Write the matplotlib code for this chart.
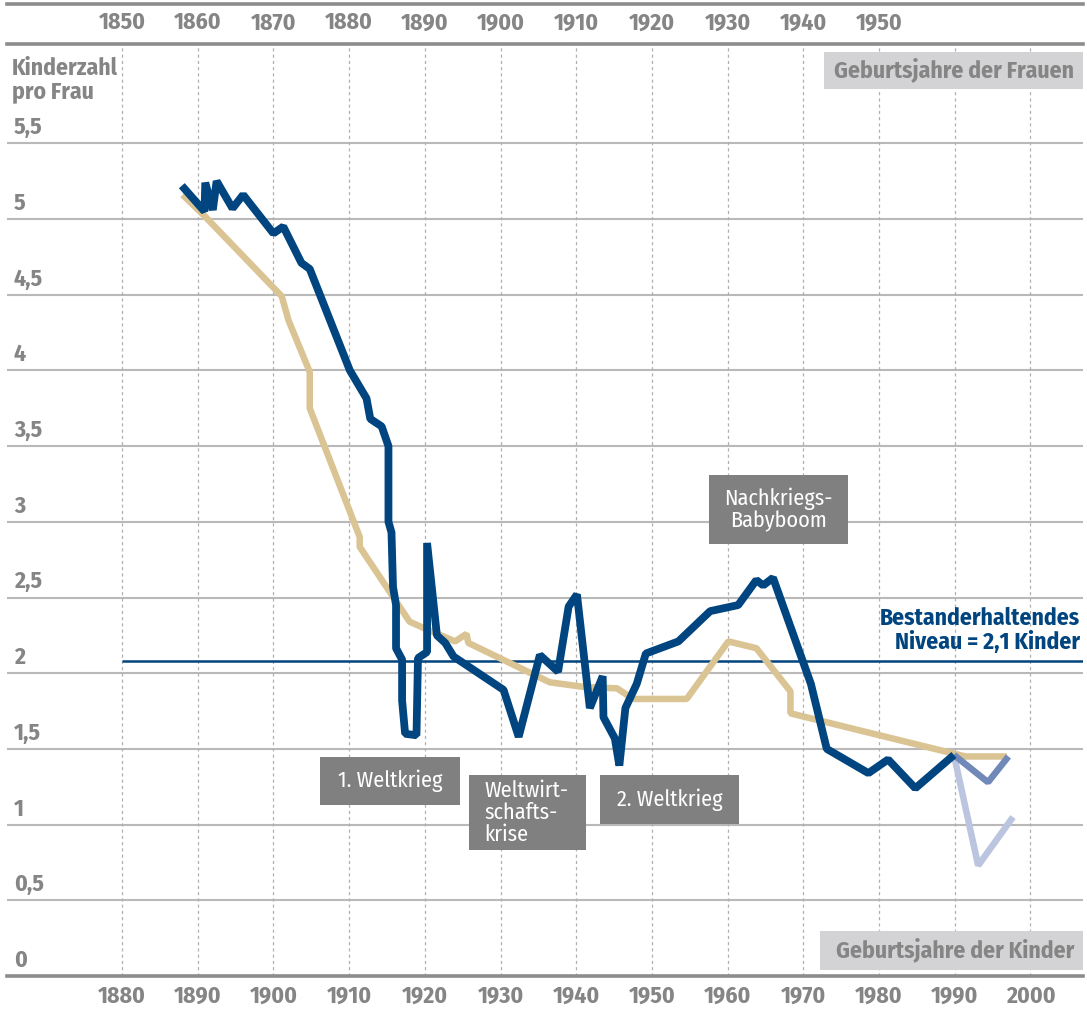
import matplotlib
matplotlib.use("Agg")
import matplotlib.pyplot as plt
from matplotlib import font_manager
from matplotlib.font_manager import FontProperties
from matplotlib.patches import Rectangle
from matplotlib.lines import Line2D
import matplotlib.transforms as mtransforms

# ---------------- data ----------------
# calendar-year fertility (by year of children's birth)
tfr_years = [1887.9, 1890.9, 1891.0, 1892.0, 1892.5, 1894.6, 1896.0, 1900.0, 1901.3,
             1903.7, 1904.8, 1910.1, 1912.3, 1912.8, 1914.3, 1915.2, 1915.2, 1915.6,
             1915.8, 1916.2, 1916.2, 1917.0, 1917.0, 1917.4, 1918.9, 1919.1, 1920.3,
             1920.3, 1921.6, 1922.7, 1923.8, 1930.4, 1932.4, 1935.2, 1937.6, 1939.0,
             1940.1, 1941.8, 1943.5, 1943.6, 1945.1, 1945.7, 1946.5, 1948.0, 1949.2,
             1953.5, 1957.7, 1961.4, 1963.8, 1964.7, 1966.0, 1971.0, 1973.1, 1978.6,
             1981.2, 1984.8, 1989.9]
tfr_values = [5.22, 5.05, 5.24, 5.06, 5.25, 5.07, 5.16, 4.905, 4.95,
              4.71, 4.67, 4.00, 3.815, 3.68, 3.63, 3.50, 3.00, 2.93,
              2.57, 2.45, 2.165, 2.09, 1.82, 1.60, 1.59, 2.10, 2.14,
              2.86, 2.25, 2.20, 2.11, 1.89, 1.58, 2.12, 2.01, 2.44,
              2.52, 1.77, 1.98, 1.71, 1.57, 1.39, 1.77, 1.93, 2.13,
              2.21, 2.41, 2.45, 2.615, 2.58, 2.63, 1.93, 1.50, 1.34,
              1.43, 1.24, 1.46]

# after reunification
west_years = [1989.9, 1994.4, 1997.1]
west_values = [1.46, 1.28, 1.45]
east_years = [1989.9, 1993.1, 1997.7]
east_values = [1.46, 0.73, 1.05]

# completed cohort fertility (women's birth year + 30, on the children's axis)
cohort_years = [1888.0, 1891.0, 1901.1, 1902.0, 1904.8, 1904.8, 1911.4, 1911.4, 1918.0,
                1919.8, 1924.0, 1925.5, 1925.75, 1936.5, 1940.9, 1945.4, 1947.5, 1954.6,
                1960.1, 1963.8, 1968.3, 1968.3, 1989.8, 1991.4, 1996.9]
cohort_values = [5.16, 5.015, 4.49, 4.33, 3.99, 3.75, 2.90, 2.835, 2.34,
                 2.30, 2.21, 2.26, 2.20, 1.94, 1.91, 1.90, 1.83, 1.83,
                 2.21, 2.165, 1.88, 1.735, 1.47, 1.45, 1.45]

replacement_level = 2.08
replacement_start = 1880

bottom_ticks = list(range(1880, 2001, 10))
top_ticks = list(range(1850, 1951, 10))
cohort_offset = 30
y_ticks = [0, 0.5, 1, 1.5, 2, 2.5, 3, 3.5, 4, 4.5, 5, 5.5]
y_tick_labels = ["0", "0,5", "1", "1,5", "2", "2,5", "3", "3,5", "4", "4,5", "5", "5,5"]

annotations = [
    ("Nachkriegs-\nBabyboom", (709, 475, 848, 544), "center"),
    ("1. Weltkrieg", (320, 757, 460, 805), "center"),
    ("Weltwirt-\nschafts-\nkrise", (469, 775, 586, 850), "left"),
    ("2. Weltkrieg", (600, 775, 739, 824), "center"),
]

# ---------------- fonts ----------------
font_files = {f.fname.split("/")[-1]: f.fname for f in font_manager.fontManager.ttflist}


def pick(candidates):
    for c in candidates:
        if c in font_files:
            return font_files[c]
    return None


bold_path = pick(["FiraSansCondensed-Bold.ttf", "FiraSansCondensed-SemiBold.ttf",
                  "DejaVuSansCondensed-Bold.ttf"])
reg_path = pick(["FiraSansCondensed-Regular.ttf", "DejaVuSansCondensed.ttf"])


def fp(size, bold=True):
    path = bold_path if bold else reg_path
    if path:
        return FontProperties(fname=path, size=size)
    return FontProperties(family="DejaVu Sans", weight="bold" if bold else "normal",
                          stretch="condensed", size=size)


DARK_BLUE = "#00457f"
MID_BLUE = "#7189b9"
LIGHT_BLUE = "#bcc5df"
BEIGE = "#dbc493"
GRAY_TXT = "#858585"
AXIS_GRAY = "#8c8c8c"
GRID_GRAY = "#b9b9b9"
BOX_DARK = "#808080"
BOX_LIGHT = "#d3d3d5"

W, H = 1087, 1010
fig = plt.figure(figsize=(W / 100, H / 100), dpi=100)


def fx(px):
    return px / W


def fy(py):
    return 1 - py / H


ax_l, ax_r, ax_t, ax_b = 7, 1083, 44, 976
ax = fig.add_axes([fx(ax_l), fy(ax_b), fx(ax_r) - fx(ax_l), fy(ax_t) - fy(ax_b)])
px_per_year = 7.57
x_left = 1880 - (122 - ax_l) / px_per_year
x_right = 1880 + (ax_r - 122) / px_per_year
px_per_unit = 151.4
ax.set_xlim(x_left, x_right)
ax.set_ylim(0, (ax_b - ax_t) / px_per_unit)

# grid
for v in y_ticks[1:]:
    ax.axhline(v, color=GRID_GRAY, lw=1.5, zorder=1)
for yr in bottom_ticks:
    ax.axvline(yr, color="#b0b0b0", lw=0.9, ls=(0, (2.5, 2.5)), zorder=1)

# spines
for s in ["left", "right"]:
    ax.spines[s].set_visible(False)
for s in ["top", "bottom"]:
    ax.spines[s].set_color(AXIS_GRAY)
    ax.spines[s].set_linewidth(2.6)
    ax.spines[s].set_zorder(5)

TICK_FP = fp(17)
ax.set_yticks(y_ticks)
ax.set_yticklabels([])
ax.tick_params(axis="y", length=0)
ax.set_xticks(bottom_ticks)
ax.set_xticklabels([str(t) for t in bottom_ticks], fontproperties=TICK_FP, color=GRAY_TXT)
ax.tick_params(axis="x", length=0, pad=6)

sec = ax.secondary_xaxis("top", functions=(lambda x: x - cohort_offset,
                                           lambda x: x + cohort_offset))
sec.set_xticks(top_ticks)
sec.set_xticklabels([str(t) for t in top_ticks], fontproperties=TICK_FP, color=GRAY_TXT)
sec.tick_params(axis="x", length=0, pad=7)
sec.spines["top"].set_visible(False)

# y labels inside the plot, above their gridlines
blend = mtransforms.blended_transform_factory(ax.transAxes, ax.transData)
xa = (14 - ax_l) / (ax_r - ax_l)
for v, lab in zip(y_ticks, y_tick_labels):
    ax.annotate(lab, xy=(xa, v), xycoords=blend,
                xytext=(0, 3), textcoords="offset points", ha="left", va="bottom",
                fontproperties=fp(17), color=GRAY_TXT, zorder=6)

# replacement level line
ax.hlines(replacement_level, replacement_start, x_right, color=DARK_BLUE, lw=1.8, zorder=3)

# series
kw = dict(solid_joinstyle="bevel", solid_capstyle="butt")
ax.plot(cohort_years, cohort_values, color=BEIGE, lw=4.7, zorder=3, **kw)
ax.plot(east_years, east_values, color=LIGHT_BLUE, lw=4.7, zorder=4, **kw)
ax.plot(west_years, west_values, color=MID_BLUE, lw=4.7, zorder=4.5, **kw)
ax.plot(tfr_years, tfr_values, color=DARK_BLUE, lw=5.6, zorder=4.6, **kw)

# top band line
fig.add_artist(Line2D([fx(ax_l), fx(ax_r)], [fy(4), fy(4)], color=AXIS_GRAY, lw=2.6,
                      transform=fig.transFigure))

# labels
fig.text(fx(12), fy(80), "Kinderzahl\npro Frau", ha="left", va="center",
         fontproperties=fp(17), color=GRAY_TXT, linespacing=1.05)
fig.text(fx(1080), fy(630), "Bestanderhaltendes\nNiveau = 2,1 Kinder", ha="right",
         va="center", fontproperties=fp(17), color=DARK_BLUE, linespacing=1.05)


def box(x0, y0, x1, y1, color, z=7):
    fig.add_artist(Rectangle((fx(x0), fy(y1)), fx(x1) - fx(x0), fy(y0) - fy(y1),
                             transform=fig.transFigure, facecolor=color,
                             edgecolor="none", zorder=z))


box(824, 52, 1083, 89, BOX_LIGHT)
fig.text(fx(954), fy(70), "Geburtsjahre der Frauen", ha="center", va="center",
         fontproperties=fp(17), color=GRAY_TXT, zorder=8)
box(820, 931, 1083, 970, BOX_LIGHT)
fig.text(fx(955), fy(950), "Geburtsjahre der Kinder", ha="center", va="center",
         fontproperties=fp(17), color=GRAY_TXT, zorder=8)

for text, (x0, y0, x1, y1), align in annotations:
    box(x0, y0, x1, y1, BOX_DARK)
    if align == "center":
        tx = (x0 + x1) / 2
    else:
        tx = x0 + 15
    fig.text(fx(tx), fy((y0 + y1) / 2), text, ha=align, va="center",
             fontproperties=fp(16, bold=False), color="white", zorder=8, linespacing=1.05)

fig.savefig("out.png", dpi=100)
